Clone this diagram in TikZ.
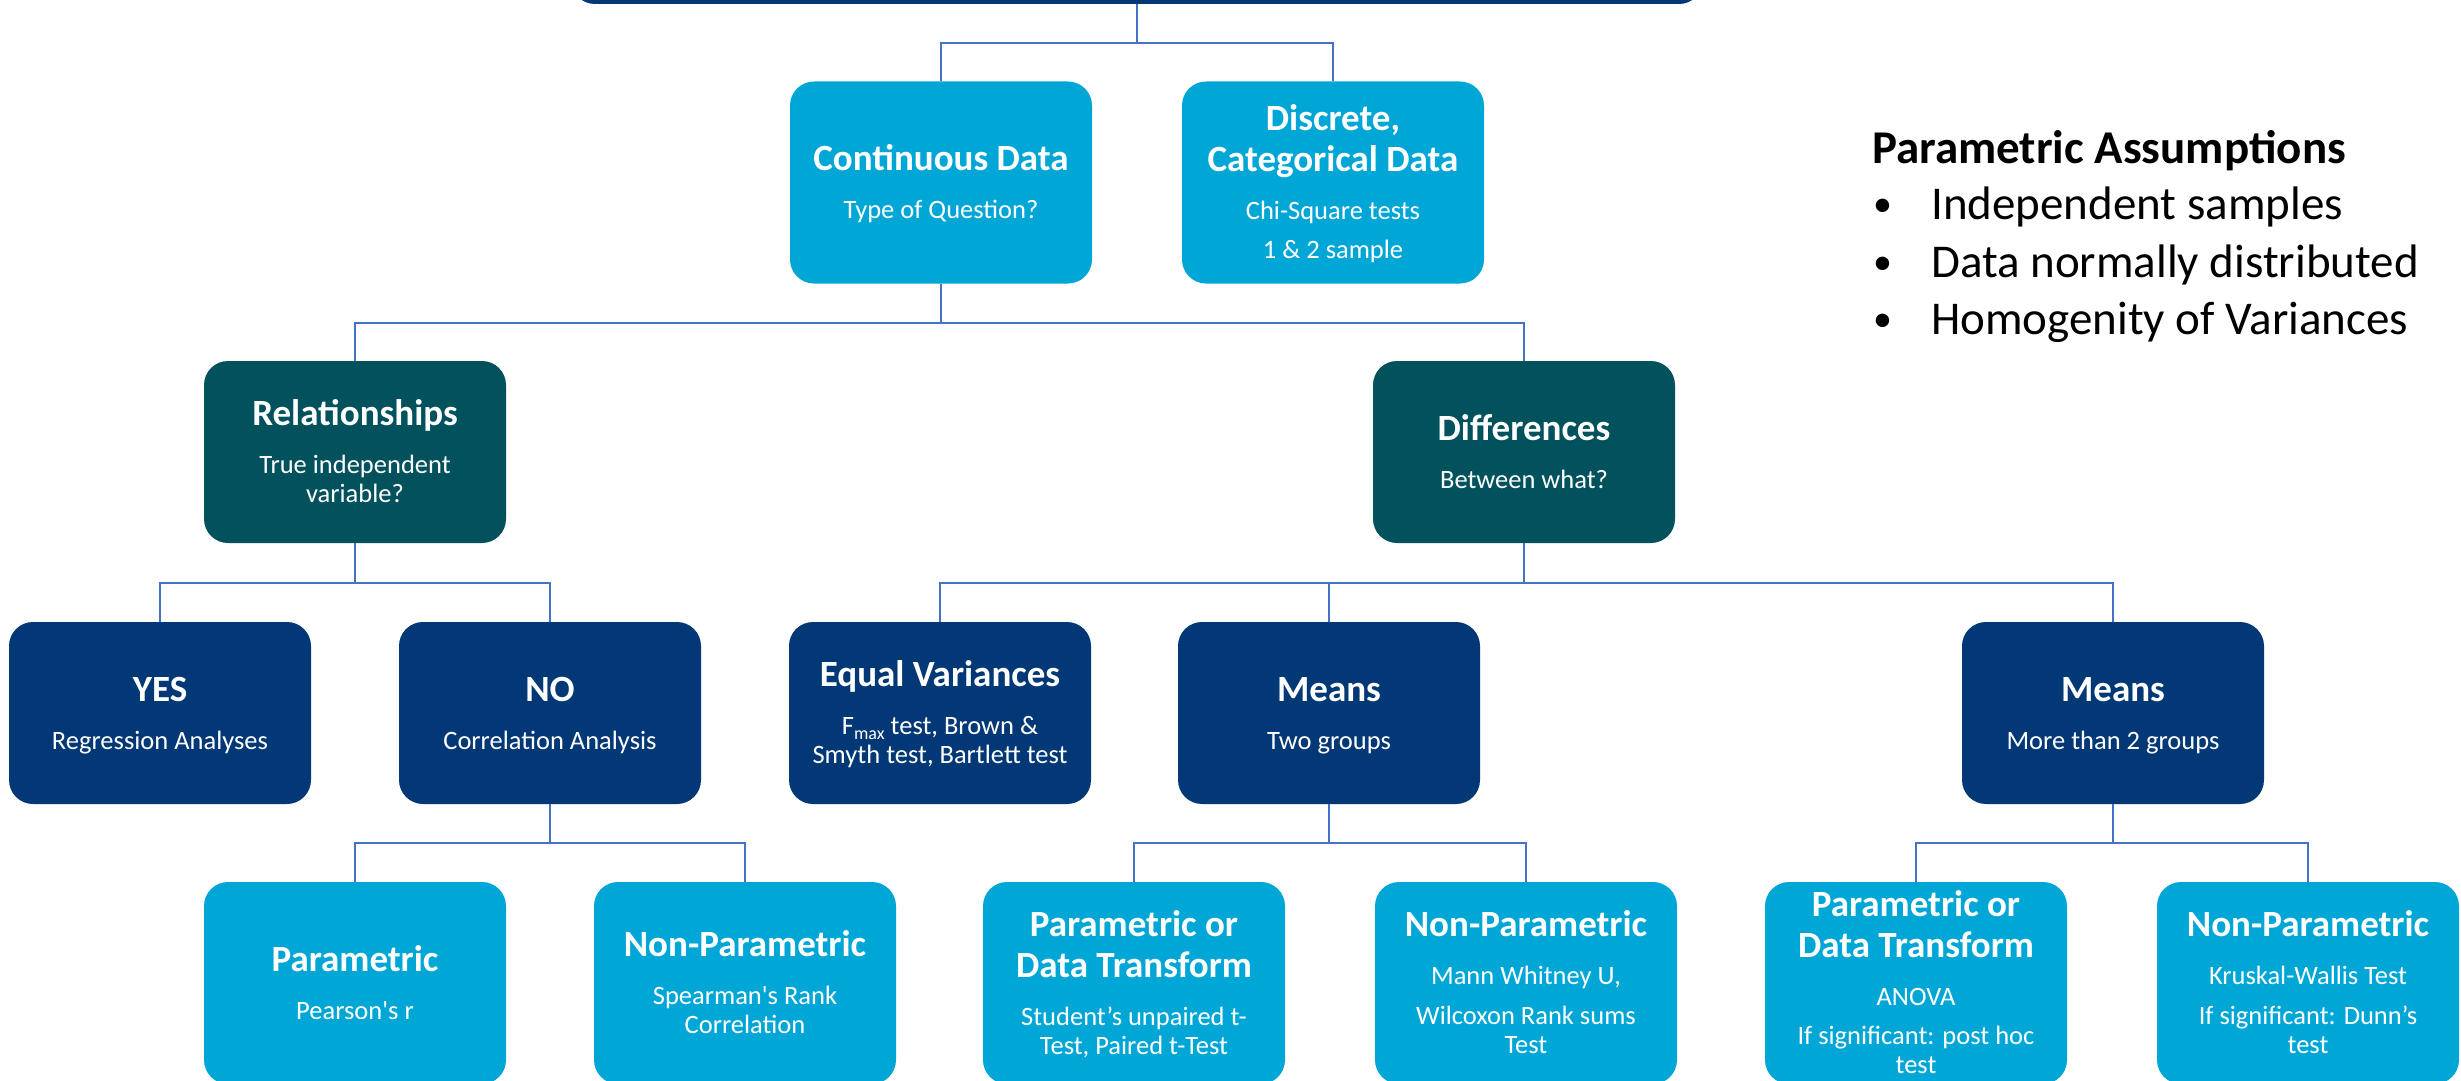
\documentclass[tikz,border=0pt]{standalone}
\usepackage{fontspec}
\setmainfont{Carlito}
\usetikzlibrary{calc}
\definecolor{cLight}{HTML}{00A7D6}
\definecolor{cTeal}{HTML}{02525E}
\definecolor{cNavy}{HTML}{023876}
\definecolor{cLine}{HTML}{4472C4}
\newcommand\titlef{\fontsize{37}{40}\selectfont\bfseries}
\newcommand\subf{\fontsize{26.5}{29}\selectfont}
\newcommand\stack[1]{\vbox{\offinterlineskip\halign{\hfil##\hfil\cr#1\crcr}}}
\newcommand\tlA[1]{\titlef\vrule height 24pt depth 0pt width 0pt\smash{#1}}
\newcommand\tlB[1]{\titlef\vrule height 41pt depth 0pt width 0pt\smash{#1}}
\newcommand\slA[1]{\subf\vrule height 48pt depth 0pt width 0pt\smash{#1}}
\newcommand\slP[1]{\subf\vrule height 39.5pt depth 0pt width 0pt\smash{#1}}
\newcommand\slC[1]{\subf\vrule height 29pt depth 0pt width 0pt\smash{#1}}
\newcommand\pafont{\fontsize{47}{57}\selectfont}
\newcommand\pabul{\makebox[59pt][l]{\hspace{1pt}\raisebox{2.5pt}{\fontsize{38}{38}\selectfont•}}}
\tikzset{
  box/.style={rectangle, rounded corners=24pt, minimum width=302pt, inner sep=0pt, text=white},
  lb/.style={box, fill=cLight, minimum height=202pt},
  tb/.style={box, fill=cTeal, minimum height=182pt},
  nb/.style={box, fill=cNavy, minimum height=182pt},
  link/.style={draw=cLine, line width=2.3pt},
  pa/.style={anchor=base west, inner sep=0pt, font=\pafont, text=black},
}
\begin{document}
\begin{tikzpicture}[x=1pt,y=-1pt]
\useasboundingbox (0,0) rectangle (2461,1081);
\clip (0,0) rectangle (2461,1081);
\fill[white] (0,0) rectangle (2461,1081);
% root (cut off at top)
\node[nb, minimum width=1132pt] (root) at (1137,-87) {};
% row 1
\node[lb] (cont) at (941,182.5) {\stack{\tlA{Continuous Data}\cr\slA{Type of Question?}}};
\node[lb] (disc) at (1333,182.5) {\stack{\tlA{Discrete,}\cr\tlB{Categorical Data}\cr\slA{Chi-Square tests}\cr\slP{1 \& 2 sample}}};
% row 2
\node[tb] (rel) at (355,452) {\stack{\tlA{Relationships}\cr\slA{True independent}\cr\slC{variable?}}};
\node[tb] (diff) at (1524,452) {\stack{\tlA{Differences}\cr\slA{Between what?}}};
% row 3
\node[nb] (yes) at (160,713) {\stack{\tlA{YES}\cr\slA{Regression Analyses}}};
\node[nb] (no) at (550,713) {\stack{\tlA{NO}\cr\slA{Correlation Analysis}}};
\node[nb] (eqv) at (940,713) {\stack{\tlA{Equal Variances}\cr\slA{F\raisebox{-5pt}{\fontsize{18}{18}\selectfont max} test, Brown \&}\cr\slC{Smyth test, Bartlett test}}};
\node[nb] (mtwo) at (1329,713) {\stack{\tlA{Means}\cr\slA{Two groups}}};
\node[nb] (mmore) at (2113,713) {\stack{\tlA{Means}\cr\slA{More than 2 groups}}};
% row 4
\node[lb] (par) at (355,983) {\stack{\tlA{Parametric}\cr\slA{Pearson\textquotesingle s r}}};
\node[lb] (npar) at (745,983) {\stack{\tlA{Non-Parametric}\cr\slA{Spearman\textquotesingle s Rank}\cr\slC{Correlation}}};
\node[lb] (pdt) at (1134,983) {\stack{\tlA{Parametric or}\cr\tlB{Data Transform}\cr\slA{Student’s unpaired t-}\cr\slC{Test, Paired t-Test}}};
\node[lb] (nparb) at (1526,983) {\stack{\tlA{Non-Parametric}\cr\slA{Mann Whitney U,}\cr\slP{Wilcoxon Rank sums}\cr\slC{Test}}};
\node[lb] (pdtb) at (1916,983) {\stack{\tlA{Parametric or}\cr\tlB{Data Transform}\cr\slA{ANOVA}\cr\slP{If significant: post hoc}\cr\slC{test}}};
\node[lb] (nparc) at (2308,983) {\stack{\tlA{Non-Parametric}\cr\slA{Kruskal-Wallis Test}\cr\slP{If significant: Dunn’s}\cr\slC{test}}};
% connectors
\draw[link] (root.south) -- ++(0,39) -| (cont.north);
\draw[link] (root.south) -- ++(0,39) -| (disc.north);
\draw[link] (cont.south) -- ++(0,39) -| (rel.north);
\draw[link] (cont.south) -- ++(0,39) -| (diff.north);
\draw[link] (rel.south) -- ++(0,39.5) -| (yes.north);
\draw[link] (rel.south) -- ++(0,39.5) -| (no.north);
\draw[link] (diff.south) -- ++(0,39.5) -| (eqv.north);
\draw[link] (diff.south) -- ++(0,39.5) -| (mtwo.north);
\draw[link] (diff.south) -- ++(0,39.5) -| (mmore.north);
\draw[link] (no.south) -- ++(0,39) -| (par.north);
\draw[link] (no.south) -- ++(0,39) -| (npar.north);
\draw[link] (mtwo.south) -- ++(0,39) -| (pdt.north);
\draw[link] (mtwo.south) -- ++(0,39) -| (nparb.north);
\draw[link] (mmore.south) -- ++(0,39) -| (pdtb.north);
\draw[link] (mmore.south) -- ++(0,39) -| (nparc.north);
% parametric assumptions
\node[pa, font=\pafont\bfseries] (pat) at (1872,163) {Parametric Assumptions};
\node[pa] (pa1) at (1872,219) {\pabul Independent samples};
\node[pa] (pa2) at (1872,277) {\pabul Data normally distributed};
\node[pa] (pa3) at (1872,334) {\pabul Homogenity of Variances};
\end{tikzpicture}
\end{document}
